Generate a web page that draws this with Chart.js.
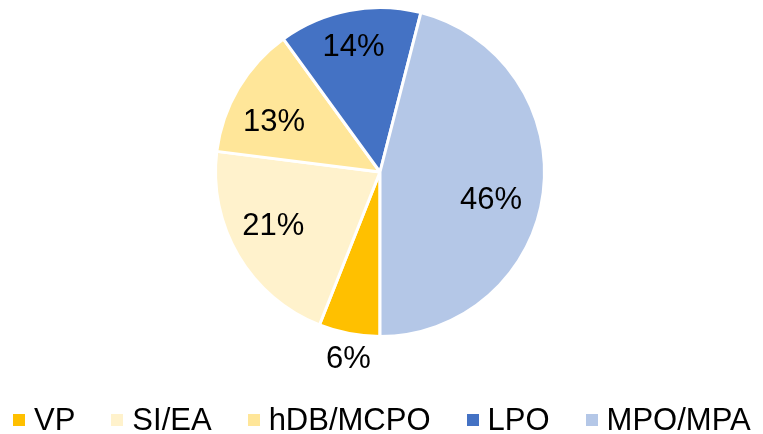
<!DOCTYPE html>
<html>
<head>
<meta charset="utf-8">
<script src="https://cdn.jsdelivr.net/npm/chart.js@4/dist/chart.umd.min.js"></script>
<style>
  html, body { margin: 0; padding: 0; background: #fff; }
  #wrap { position: relative; width: 763px; height: 434px; }
  #chart { display: block; }
  #legend {
    position: absolute;
    left: 13px;
    top: 404px;
    display: flex;
    gap: 36px;
    font: 31px "Liberation Sans", Arial, sans-serif;
    line-height: 31px;
    color: #000;
    white-space: nowrap;
  }
  #legend .item { display: flex; align-items: center; }
  #legend .box { width: 12px; height: 12px; margin-right: 9px; }
</style>
</head>
<body>
<div id="wrap">
  <canvas id="chart" width="763" height="434"></canvas>
  <div id="legend"></div>
</div>
<script>
const categories = ["VP", "SI/EA", "hDB/MCPO", "LPO", "MPO/MPA"];
const shares = [6, 21, 13, 14, 46];
const colors = ["#FFC000", "#FFF2CC", "#FFE699", "#4472C4", "#B4C7E7"];

// where each percentage sits: fraction of the radius, and a nudge (degrees) off the slice middle
const labelRadius = [1.156, 0.727, 0.712, 0.771, 0.697];
const labelShift = [-1.2, 3.7, -5.4, -1.2, 7.4];

const sliceLabels = {
  id: "sliceLabels",
  afterDatasetsDraw(chart) {
    const { ctx } = chart;
    const meta = chart.getDatasetMeta(0);
    ctx.save();
    ctx.font = '31px "Liberation Sans", Arial, sans-serif';
    ctx.fillStyle = "#000";
    ctx.textAlign = "center";
    ctx.textBaseline = "middle";
    meta.data.forEach((arc, i) => {
      const { x, y, startAngle, endAngle, outerRadius } = arc.getProps(
        ["x", "y", "startAngle", "endAngle", "outerRadius"],
        true
      );
      const a = (startAngle + endAngle) / 2 + (labelShift[i] * Math.PI) / 180;
      const r = outerRadius * labelRadius[i];
      ctx.fillText(shares[i] + "%", x + Math.cos(a) * r, y + Math.sin(a) * r);
    });
    ctx.restore();
  },
};

new Chart(document.getElementById("chart"), {
  type: "pie",
  data: {
    labels: categories,
    datasets: [
      {
        data: shares,
        backgroundColor: colors,
        borderColor: "#fff",
        borderWidth: 3,
        radius: 164.5,
      },
    ],
  },
  options: {
    responsive: false,
    animation: false,
    rotation: 180,
    layout: { padding: { left: 0, right: 3, top: 0, bottom: 90 } },
    plugins: {
      legend: { display: false },
      tooltip: { enabled: false },
    },
  },
  plugins: [sliceLabels],
});

// legend row under the pie
const legend = document.getElementById("legend");
categories.forEach((name, i) => {
  const item = document.createElement("span");
  item.className = "item";
  const box = document.createElement("span");
  box.className = "box";
  box.style.background = colors[i];
  const text = document.createElement("span");
  text.textContent = name;
  item.appendChild(box);
  item.appendChild(text);
  legend.appendChild(item);
});
</script>
</body>
</html>
